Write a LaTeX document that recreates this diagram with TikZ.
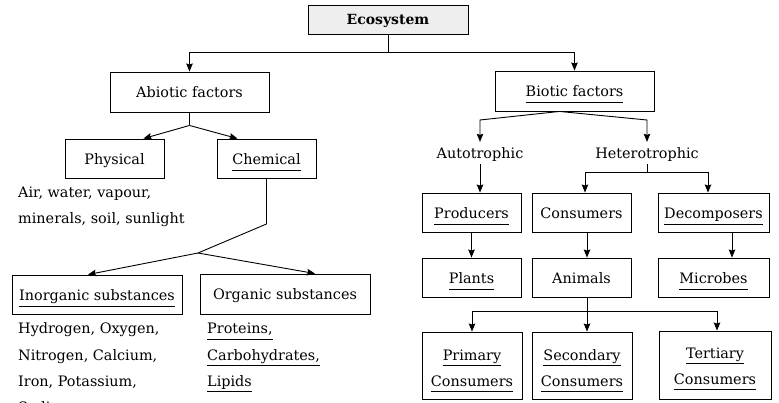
\documentclass[tikz,border=0pt]{standalone}
\usepackage{fontspec}
\setmainfont{DejaVu Serif}
\usetikzlibrary{arrows.meta,calc}
\newcommand\myul[1]{\sbox0{#1}\rlap{\smash{\rule[-6pt]{\wd0}{0.8pt}}}\usebox0}
\tikzset{
  every node/.style={font=\fontsize{14.4}{17}\selectfont},
  box/.style={draw, line width=0.9pt, inner sep=0pt, text height=12pt, text depth=0pt,
              minimum width=99pt, minimum height=39pt},
  txt/.style={inner sep=0pt, anchor=base west},
  lbl/.style={inner sep=2pt, anchor=base},
  ctr/.style={inner sep=0pt, anchor=base},
  conn/.style={line width=0.9pt},
  arr/.style={line width=0.9pt, -{Stealth[length=8pt,width=6.5pt,inset=1pt]}}
}
\begin{document}
\begin{tikzpicture}[x=1pt,y=-1pt]
\useasboundingbox (0,0) rectangle (779,403);
\clip (0,0) rectangle (779,403);
% top
\node[box, minimum width=160pt, minimum height=29pt, fill=gray!13, text height=9.6pt,
      font=\bfseries\fontsize{14}{17}\selectfont] (eco) at (388,19.5) {Ecosystem};
\node[box, minimum width=159pt, minimum height=40pt] (abio) at (189.5,92) {Abiotic factors};
\node[box, minimum width=159pt, minimum height=40pt] (bio) at (574.5,91) {\myul{Biotic factors}};
% abiotic side
\node[box] (phys) at (114.5,158.5) {Physical};
\node[box] (chem) at (266.5,158.5) {\myul{Chemical}};
\node[txt] (pt1) at (18,198) {Air, water, vapour,};
\node[txt] (pt2) at (18,224) {minerals, soil, sunlight};
\node[box, minimum width=170pt] (inorg) at (97,294.5) {\myul{Inorganic substances}};
\node[box, minimum width=170pt, minimum height=40pt] (org) at (285,294) {Organic substances};
\node[txt] (in1) at (18,334) {Hydrogen, Oxygen,};
\node[txt] (in2) at (18,360) {Nitrogen, Calcium,};
\node[txt] (in3) at (18,386) {Iron, Potassium,};
\node[txt] (in4) at (18,412) {Sodium};
\node[txt] (or1) at (207,334) {\myul{Proteins,}};
\node[txt] (or2) at (207,360) {\myul{Carbohydrates,}};
\node[txt] (or3) at (207,386) {\myul{Lipids}};
% biotic side
\node[lbl] (auto) at (480,159) {Autotrophic};
\node[lbl] (het) at (647,159) {Heterotrophic};
\node[box] (prod) at (471.5,212.5) {\myul{Producers}};
\node[box] (cons) at (581.5,212.5) {Consumers};
\node[box, minimum width=111pt] (deco) at (713.5,212.5) {\myul{Decomposers}};
\node[box] (plants) at (471.5,277.5) {\myul{Plants}};
\node[box] (anim) at (581.5,277.5) {Animals};
\node[box, minimum width=111pt] (micro) at (713.5,277.5) {\myul{Microbes}};
\node[box, minimum width=100pt, minimum height=67pt] (prim) at (472,365.5) {};
\node[box, minimum width=100pt, minimum height=67pt] (sec) at (582,365.5) {};
\node[box, minimum width=112pt, minimum height=68pt] (ter) at (715,365) {};
\node[ctr] (prim1) at (472,360) {\myul{Primary}};
\node[ctr] (prim2) at (472,386) {\myul{Consumers}};
\node[ctr] (sec1) at (582,360) {\myul{Secondary}};
\node[ctr] (sec2) at (582,386) {\myul{Consumers}};
\node[ctr] (ter1) at (715,358) {\myul{Tertiary}};
\node[ctr] (ter2) at (715,384) {\myul{Consumers}};
% connectors: top
\draw[arr] (eco.south) -- ++(0,18) -| (abio.north);
\draw[arr] (eco.south) -- ++(0,18) -| (bio.north);
% abiotic
\coordinate (aj) at ($(abio.south)+(0,13)$);
\draw[conn] (abio.south) -- (aj);
\draw[arr] (aj) -- ($(phys.north east)+(-21,0)$);
\draw[arr] (aj) -- ($(chem.north west)+(21,0)$);
\coordinate (cb) at (chem.south |- 0,224);
\coordinate (cj) at (198,253);
\draw[conn] (chem.south) -- (cb) -- (cj);
\draw[arr] (cj) -- ($(inorg.north)+(-9,0)$);
\draw[arr] (cj) -- ($(org.north)+(30,0)$);
% biotic
\coordinate (bj) at ($(bio.south)+(-15,0)$);
\draw[arr] (bj) -- (auto.north |- 0,120) -- ($(auto.north)+(0,-4)$);
\draw[arr] (bj) -- (het.north |- 0,120) -- ($(het.north)+(0,-4)$);
\draw[arr] (auto.south) -- (auto.south |- prod.north);
\coordinate (hj) at (het.south |- 0,172);
\draw[conn] (het.south) -- (hj);
\draw[arr] (hj) -| ($(cons.north)+(3.5,0)$);
\draw[arr] (hj) -| ($(deco.north)+(-5.5,0)$);
\draw[arr] (prod.south) -- (plants.north);
\draw[arr] ($(cons.south)+(5.5,0)$) -- ($(anim.north)+(5.5,0)$);
\draw[arr] ($(deco.south)+(18.5,0)$) -- ($(micro.north)+(18.5,0)$);
\coordinate (nj) at ($(anim.south)+(5.5,14)$);
\draw[conn] ($(anim.south)+(5.5,0)$) -- (nj);
\draw[arr] (nj) -| (prim.north);
\draw[arr] (nj) -- ($(sec.north)+(5,0)$);
\draw[arr] (nj) -| ($(ter.north)+(2,0)$);
\end{tikzpicture}
\end{document}
